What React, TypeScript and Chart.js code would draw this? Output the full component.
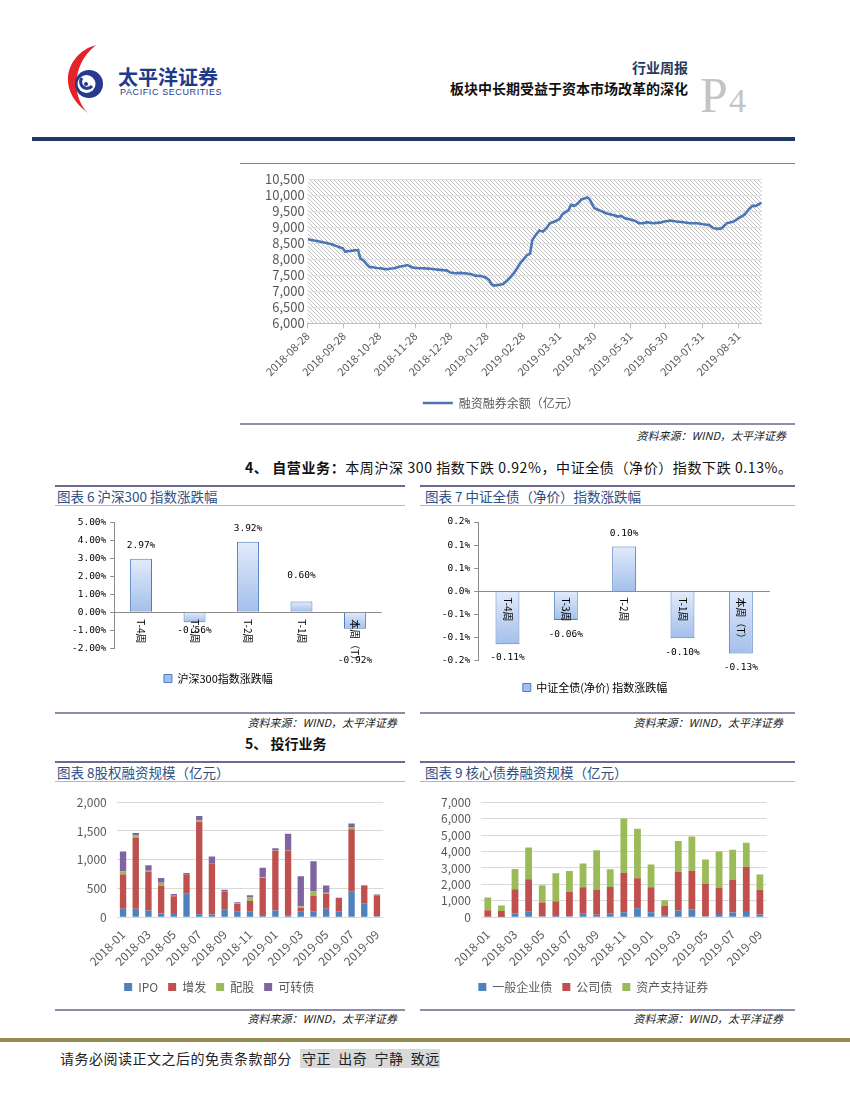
import React, { useEffect, useRef } from 'react';
import { Chart, registerables } from 'chart.js';

Chart.register(...registerables);

const CJK = '"Noto Sans CJK SC", "Noto Sans", sans-serif';
const MONO = '"DejaVu Sans Mono", "Liberation Mono", monospace';
Chart.defaults.font.family = CJK;

// ---------- 融资融券余额 (day offset from 2018-08-28, 亿元) ----------
const marginDays = [0, 3, 8, 13, 17, 21, 24, 28, 30, 32, 36, 40, 43, 45, 48, 51, 53, 56, 59, 62, 65, 68, 71, 74, 78, 82, 85, 88, 90, 95, 99, 103, 108, 113, 119, 122, 126, 130, 136, 140, 143, 148, 152, 155, 157, 159, 163, 167, 170, 173, 176, 179, 182, 185, 187, 190, 192, 195, 198, 201, 204, 207, 211, 215, 218, 223, 225, 228, 231, 234, 239, 241, 245, 250, 255, 261, 265, 268, 271, 275, 280, 283, 287, 290, 295, 301, 305, 310, 315, 321, 327, 333, 338, 343, 347, 351, 354, 358, 364, 368, 373, 377, 380, 383, 388];
const marginValues = [8630, 8605, 8575, 8530, 8500, 8460, 8420, 8365, 8345, 8240, 8260, 8280, 8290, 8030, 7950, 7820, 7750, 7750, 7730, 7720, 7700, 7690, 7710, 7720, 7770, 7790, 7820, 7770, 7740, 7720, 7720, 7710, 7690, 7670, 7650, 7585, 7565, 7575, 7555, 7530, 7490, 7480, 7430, 7355, 7220, 7180, 7200, 7230, 7320, 7430, 7560, 7720, 7900, 8020, 8120, 8180, 8600, 8770, 8900, 8865, 8970, 9125, 9180, 9250, 9420, 9540, 9700, 9670, 9750, 9875, 9930, 9875, 9595, 9520, 9440, 9385, 9335, 9355, 9280, 9250, 9200, 9125, 9125, 9160, 9125, 9145, 9180, 9210, 9180, 9160, 9125, 9125, 9095, 9075, 8970, 8950, 8970, 9125, 9180, 9280, 9385, 9560, 9670, 9670, 9770];
const marginTickDays = [0, 31, 61, 92, 122, 153, 184, 215, 245, 276, 306, 337, 368];
const marginTickLabels = ['2018-08-28', '2018-09-28', '2018-10-28', '2018-11-28', '2018-12-28', '2019-01-28', '2019-02-28', '2019-03-31', '2019-04-30', '2019-05-31', '2019-06-30', '2019-07-31', '2019-08-31'];

// ---------- 图表6 / 图表7 ----------
const weekLabels = ['T-4周', 'T-3周', 'T-2周', 'T-1周', '本周（T）'];
const hs300Change = [2.97, -0.56, 3.92, 0.6, -0.92];
const hs300Ticks = ['-2.00%', '-1.00%', '0.00%', '1.00%', '2.00%', '3.00%', '4.00%', '5.00%'];
const bondChange = [-0.114, -0.062, 0.097, -0.101, -0.134];
const bondTicks = ['-0.2%', '-0.1%', '-0.1%', '0.0%', '0.1%', '0.1%', '0.2%'];

// ---------- 图表8 / 图表9 ----------
const months = ['2018-01', '2018-02', '2018-03', '2018-04', '2018-05', '2018-06', '2018-07', '2018-08', '2018-09', '2018-10', '2018-11', '2018-12', '2019-01', '2019-02', '2019-03', '2019-04', '2019-05', '2019-06', '2019-07', '2019-08', '2019-09'];
const ipo = [150, 150, 120, 65, 75, 410, 55, 50, 130, 95, 95, 40, 120, 28, 95, 95, 150, 95, 442, 243, 20];
const zengfa = [595, 1230, 665, 480, 290, 340, 1600, 890, 310, 135, 190, 645, 1035, 1132, 70, 275, 260, 245, 1088, 309, 360];
const peigu = [55, 40, 25, 55, 10, 0, 25, 5, 5, 10, 65, 10, 5, 5, 28, 83, 15, 0, 39, 0, 0];
const kezhuanzhai = [345, 45, 95, 85, 30, 20, 80, 110, 35, 20, 35, 165, 40, 285, 520, 519, 127, 0, 61, 5, 18];
const generalCorpBond = [40, 20, 233, 330, 58, 136, 58, 214, 155, 214, 311, 544, 311, 97, 408, 486, 58, 194, 292, 389, 175];
const companyBond = [390, 369, 1478, 1983, 836, 836, 1497, 1613, 1536, 1633, 2391, 1828, 1516, 583, 2352, 2352, 2002, 1594, 1982, 2682, 1497];
const abs = [775, 331, 1224, 1925, 1050, 1711, 1265, 1439, 2391, 1069, 3305, 3013, 1381, 350, 1886, 2080, 1457, 2216, 1827, 1458, 933];

// ---------- plugins ----------
const hatchPlugin = {
  id: 'hatch',
  beforeDraw(chart: any) {
    const { ctx, chartArea: a } = chart;
    if (!a) return;
    const p = document.createElement('canvas');
    p.width = 4;
    p.height = 4;
    const pc = p.getContext('2d')!;
    pc.fillStyle = '#c2c2c2';
    for (let i = 0; i < 4; i++) pc.fillRect(i, i, 1, 1);
    const pat = ctx.createPattern(p, 'repeat');
    ctx.save();
    ctx.fillStyle = pat;
    ctx.fillRect(a.left, a.top, a.right - a.left, a.bottom - a.top);
    ctx.restore();
  },
};

const pctLabelsPlugin = {
  id: 'pctLabels',
  afterDatasetsDraw(chart: any, _a: any, o: any) {
    const { ctx } = chart;
    const xs = chart.scales.x;
    const ys = chart.scales.y;
    const base = ys.getPixelForValue(0);
    ctx.save();
    ctx.fillStyle = '#000';
    ctx.font = o.catFont;
    ctx.textAlign = 'left';
    ctx.textBaseline = 'middle';
    chart.data.labels.forEach((l: string, i: number) => {
      ctx.save();
      ctx.translate(xs.getPixelForValue(i), base + o.catGap);
      ctx.rotate(Math.PI / 2);
      ctx.fillText(l, 0, 0);
      ctx.restore();
    });
    ctx.font = o.valFont;
    ctx.textAlign = 'center';
    const meta = chart.getDatasetMeta(0);
    const vals = chart.data.datasets[0].data;
    meta.data.forEach((el: any, i: number) => {
      const v = vals[i];
      const g = o.gaps[i];
      ctx.fillText(v.toFixed(2) + '%', el.x, v >= 0 ? el.y - g : el.y + g);
    });
    ctx.restore();
  },
};

const barFill = (c: any) => {
  const ch = c.chart;
  const ys = ch.scales && ch.scales.y;
  if (!ys || c.dataIndex === undefined || c.type !== 'data') return '#c6d9f1';
  const y0 = ys.getPixelForValue(0);
  const y1 = ys.getPixelForValue(c.raw);
  if (!Number.isFinite(y0) || !Number.isFinite(y1)) return '#c6d9f1';
  const top = Math.min(y0, y1);
  const bot = Math.max(y0, y1) + 0.01;
  const g = ch.ctx.createLinearGradient(0, top, 0, bot);
  g.addColorStop(0, '#e2ebfb');
  g.addColorStop(1, '#a3bfeb');
  return g;
};

// ---------- configs ----------
function marginConfig(): any {
  return {
    type: 'line',
    data: {
      datasets: [
        {
          label: '融资融券余额（亿元）',
          data: marginDays.map((d, i) => ({ x: d, y: marginValues[i] })),
          borderColor: '#4a76b5',
          borderWidth: 2.6,
          pointRadius: 0,
          tension: 0,
          fill: false,
        },
      ],
    },
    options: {
      responsive: false,
      animation: false,
      layout: { padding: { top: 13.3, right: 33.3, left: 0, bottom: 0 } },
      plugins: {
        legend: {
          position: 'bottom',
          labels: { usePointStyle: true, pointStyle: 'line', pointStyleWidth: 30, font: { size: 12 }, color: '#595959', padding: 10 },
        },
        tooltip: { enabled: false },
      },
      scales: {
        x: {
          type: 'linear',
          min: 0,
          max: 388,
          afterBuildTicks: (ax: any) => {
            ax.ticks = marginTickDays.map((v) => ({ value: v }));
          },
          afterFit: (ax: any) => {
            ax.height = 63.7;
          },
          grid: { drawOnChartArea: false, drawTicks: true, tickLength: 5, color: '#bfbfbf' },
          border: { display: true, color: '#bfbfbf' },
          ticks: {
            minRotation: 45,
            maxRotation: 45,
            autoSkip: false,
            font: { size: 11 },
            color: '#595959',
            padding: 1,
            callback: (v: any) => {
              const i = marginTickDays.indexOf(Number(v));
              return i >= 0 ? marginTickLabels[i] : '';
            },
          },
        },
        y: {
          min: 6000,
          max: 10500,
          afterFit: (ax: any) => {
            ax.width = 67.7;
          },
          ticks: {
            stepSize: 500,
            autoSkip: false,
            font: { size: 13 },
            color: '#595959',
            padding: 3,
            callback: (v: any) => Number(v).toLocaleString('en-US'),
          },
          grid: { color: '#dedede', drawTicks: false },
          border: { display: false },
        },
      },
    },
    plugins: [hatchPlugin],
  };
}

function pctBarConfig(p: any): any {
  return {
    type: 'bar',
    data: {
      labels: weekLabels,
      datasets: [
        {
          label: p.legend,
          data: p.values,
          backgroundColor: barFill,
          borderColor: '#4f7dc0',
          borderWidth: 1,
          barPercentage: 0.41,
          categoryPercentage: 1,
        },
      ],
    },
    options: {
      responsive: false,
      animation: false,
      layout: { padding: p.pad },
      plugins: {
        legend: { position: 'bottom', labels: { boxWidth: 8, boxHeight: 8, font: { size: 11 }, color: '#000', padding: 10 } },
        tooltip: { enabled: false },
        pctLabels: { catFont: '10px ' + CJK, catGap: p.catGap, valFont: '9.5px ' + MONO, gaps: p.gaps },
      },
      scales: {
        x: {
          grid: { display: false },
          border: { display: false },
          ticks: { display: false },
          afterFit: (a: any) => {
            a.height = p.xHeight;
          },
        },
        y: {
          min: p.min,
          max: p.max,
          afterFit: (a: any) => {
            a.width = p.yWidth;
          },
          ticks: {
            stepSize: p.step,
            autoSkip: false,
            font: { family: MONO, size: 9.5 },
            color: '#000',
            padding: 4,
            callback: (_v: any, i: number) => p.ticks[i],
          },
          grid: {
            color: (c: any) => (c.tick && Math.abs(c.tick.value) < 1e-9 ? '#8c8c8c' : 'rgba(0,0,0,0)'),
            tickColor: '#8c8c8c',
            tickLength: 4,
          },
          border: { display: true, color: '#8c8c8c' },
        },
      },
    },
    plugins: [pctLabelsPlugin],
  };
}

function stackConfig(p: any): any {
  return {
    type: 'bar',
    data: {
      labels: months,
      datasets: p.series.map((s: any) => ({
        label: s.label,
        data: s.data,
        backgroundColor: s.color,
        borderWidth: 0,
        barPercentage: 0.5,
        categoryPercentage: 1,
      })),
    },
    options: {
      responsive: false,
      animation: false,
      layout: { padding: p.pad },
      plugins: {
        legend: { position: 'bottom', labels: { boxWidth: 8, boxHeight: 8, font: { size: 12 }, color: '#595959', padding: 10 } },
        tooltip: { enabled: false },
      },
      scales: {
        x: {
          stacked: true,
          grid: { display: false },
          border: { display: false },
          ticks: {
            autoSkip: false,
            minRotation: 45,
            maxRotation: 45,
            font: { size: 12 },
            color: '#595959',
            padding: 2,
            callback: (_v: any, i: number) => (i % 2 === 0 ? months[i] : ''),
          },
          afterFit: (a: any) => {
            a.height = p.xHeight;
          },
        },
        y: {
          stacked: true,
          min: 0,
          max: p.max,
          afterFit: (a: any) => {
            a.width = p.yWidth;
          },
          ticks: {
            stepSize: p.step,
            autoSkip: false,
            font: { size: 12 },
            color: '#595959',
            padding: 10,
            callback: (v: any) => Number(v).toLocaleString('en-US'),
          },
          grid: { color: '#d9d9d9', drawTicks: false },
          border: { display: false },
        },
      },
    },
  };
}

// ---------- components ----------
function ChartBox({ left, top, width, height, build }: { left: number; top: number; width: number; height: number; build: () => any }) {
  const ref = useRef<HTMLCanvasElement>(null);
  useEffect(() => {
    let chart: Chart | null = null;
    try {
      chart = new Chart(ref.current as HTMLCanvasElement, build());
    } catch (e) {
      console.error(e);
    }
    return () => {
      if (chart) chart.destroy();
    };
  }, []);
  return <canvas ref={ref} width={width} height={height} style={{ position: 'absolute', left, top, width, height, display: 'block' }} />;
}

const abs0 = (s: React.CSSProperties): React.CSSProperties => ({ position: 'absolute', lineHeight: 1, whiteSpace: 'pre', ...s });

function Rule({ left, top, width, height, color }: { left: number; top: number; width: number; height: number; color: string }) {
  return <div style={{ position: 'absolute', left, top, width, height, background: color }} />;
}

function Source({ right, top }: { right: number; top: number }) {
  return <div style={abs0({ right, top, fontSize: 11, fontStyle: 'italic', color: '#222' })}>资料来源：WIND，太平洋证券</div>;
}

function PanelTitle({ left, top, text }: { left: number; top: number; text: string }) {
  return <div style={abs0({ left, top, fontSize: 13.5, color: '#2c4f86' })}>{text}</div>;
}

function Logo() {
  return (
    <svg style={{ position: 'absolute', left: 55, top: 40 }} width={65} height={80} viewBox="0 0 65 80">
      <path d="M41 5 C14 12 -2 48 33 73 C16 56 17 24 41 5 Z" fill="#e52329" />
      <circle cx={34} cy={44} r={14} fill="#283a8f" />
      <circle cx={31.5} cy={44} r={9} fill="#fff" />
      <path d="M27 38 A6 6 0 1 0 37 46" stroke="#283a8f" strokeWidth={3} fill="none" />
      <circle cx={31} cy={44} r={2} fill="#283a8f" />
    </svg>
  );
}

export default function App() {
  return (
    <div style={{ position: 'absolute', left: 0, top: 0, width: 850, height: 1100, background: '#fff', fontFamily: CJK, overflow: 'hidden' }}>
      {/* header */}
      <Logo />
      <div style={abs0({ left: 118, top: 67, fontSize: 20, fontWeight: 700, color: '#1d3b8b' })}>太平洋证券</div>
      <div style={abs0({ left: 120, top: 88, fontSize: 9, letterSpacing: 0.6, color: '#1d3b8b', fontFamily: '"Liberation Sans", sans-serif' })}>PACIFIC SECURITIES</div>
      <div style={abs0({ right: 162, top: 60, fontSize: 14, fontWeight: 700, color: '#1f3b63' })}>行业周报</div>
      <div style={abs0({ right: 162, top: 81, fontSize: 14, fontWeight: 700, color: '#111' })}>板块中长期受益于资本市场改革的深化</div>
      <div style={abs0({ left: 700, top: 70, fontSize: 50, color: '#c4c4c4', fontFamily: '"Liberation Serif", serif' })}>P</div>
      <div style={abs0({ left: 729, top: 83.5, fontSize: 34, color: '#c4c4c4', fontFamily: '"Liberation Serif", serif' })}>4</div>
      <Rule left={32} top={137} width={763} height={4} color="#1f3864" />

      {/* margin chart */}
      <Rule left={240} top={163} width={555} height={1} color="#808080" />
      <ChartBox left={240} top={166} width={555} height={253} build={marginConfig} />
      <Rule left={240} top={423} width={555} height={2} color="#8d8dab" />
      <Source right={64} top={429.5} />

      <div style={abs0({ left: 245, top: 460, fontSize: 14, letterSpacing: 0.6, color: '#111' })}>
        <b>4、 自营业务：</b>本周沪深 300 指数下跌 0.92%，中证全债（净价）指数下跌 0.13%。
      </div>

      {/* chart 6 */}
      <Rule left={55} top={485} width={350} height={2} color="#6a6a92" />
      <PanelTitle left={57} top={490} text="图表 6 沪深300 指数涨跌幅" />
      <Rule left={55} top={505} width={350} height={1} color="#b4b4c8" />
      <ChartBox
        left={55}
        top={510}
        width={350}
        height={184}
        build={() =>
          pctBarConfig({
            legend: '沪深300指数涨跌幅',
            values: hs300Change,
            ticks: hs300Ticks,
            min: -2,
            max: 5,
            step: 1,
            gaps: [13, 8, 13, 26, 32],
            catGap: 7,
            pad: { top: 12.3, right: 23.3, left: 0, bottom: 0 },
            yWidth: 59.3,
            xHeight: 14.8,
          })
        }
      />
      <Rule left={55} top={712} width={350} height={2} color="#8d8dab" />
      <Source right={453} top={716.5} />

      {/* chart 7 */}
      <Rule left={420} top={485} width={375} height={2} color="#6a6a92" />
      <PanelTitle left={425} top={490} text="图表 7 中证全债（净价）指数涨跌幅" />
      <Rule left={420} top={505} width={375} height={1} color="#b4b4c8" />
      <ChartBox
        left={420}
        top={510}
        width={375}
        height={193}
        build={() =>
          pctBarConfig({
            legend: '中证全债(净价) 指数涨跌幅',
            values: bondChange,
            ticks: bondTicks,
            min: -0.15,
            max: 0.15,
            step: 0.05,
            gaps: [13, 14, 13, 14, 14],
            catGap: 6,
            pad: { top: 12, right: 25, left: 0, bottom: 0 },
            yWidth: 58.3,
            xHeight: 11.2,
          })
        }
      />
      <Rule left={420} top={712} width={375} height={2} color="#8d8dab" />
      <Source right={67} top={716.5} />

      <div style={abs0({ left: 245, top: 736, fontSize: 14, fontWeight: 700, color: '#111' })}>5、 投行业务</div>

      {/* chart 8 */}
      <Rule left={55} top={761} width={350} height={2} color="#6a6a92" />
      <PanelTitle left={57} top={766} text="图表 8股权融资规模（亿元）" />
      <Rule left={55} top={781} width={350} height={1} color="#b4b4c8" />
      <ChartBox
        left={55}
        top={785}
        width={350}
        height={218}
        build={() =>
          stackConfig({
            series: [
              { label: 'IPO', data: ipo, color: '#4f81bd' },
              { label: '增发', data: zengfa, color: '#c0504d' },
              { label: '配股', data: peigu, color: '#9bbb59' },
              { label: '可转债', data: kezhuanzhai, color: '#8064a2' },
            ],
            max: 2000,
            step: 500,
            pad: { top: 11.7, right: 21.7, left: 0, bottom: 0 },
            yWidth: 61.7,
            xHeight: 53.7,
          })
        }
      />
      <Rule left={55} top={1009} width={350} height={2} color="#8d8dab" />
      <Source right={453} top={1012.5} />

      {/* chart 9 */}
      <Rule left={420} top={761} width={375} height={2} color="#6a6a92" />
      <PanelTitle left={425} top={766} text="图表 9 核心债券融资规模（亿元）" />
      <Rule left={420} top={781} width={375} height={1} color="#b4b4c8" />
      <ChartBox
        left={420}
        top={785}
        width={375}
        height={218}
        build={() =>
          stackConfig({
            series: [
              { label: '一般企业债', data: generalCorpBond, color: '#4f81bd' },
              { label: '公司债', data: companyBond, color: '#c0504d' },
              { label: '资产支持证券', data: abs, color: '#9bbb59' },
            ],
            max: 7000,
            step: 1000,
            pad: { top: 12.3, right: 28.3, left: 0, bottom: 0 },
            yWidth: 61,
            xHeight: 53.7,
          })
        }
      />
      <Rule left={420} top={1009} width={375} height={2} color="#8d8dab" />
      <Source right={67} top={1012.5} />

      {/* footer */}
      <Rule left={0} top={1038} width={850} height={4} color="#938953" />
      <div style={abs0({ left: 60, top: 1051, fontSize: 14, letterSpacing: 0.5, color: '#222' })}>请务必阅读正文之后的免责条款部分</div>
      <div style={abs0({ left: 300, top: 1049, height: 19, width: 140, background: '#d9d9d9' })} />
      <div style={abs0({ left: 302, top: 1051, fontSize: 14, letterSpacing: 0.5, color: '#222' })}>守正  出奇  宁静  致远</div>
    </div>
  );
}
